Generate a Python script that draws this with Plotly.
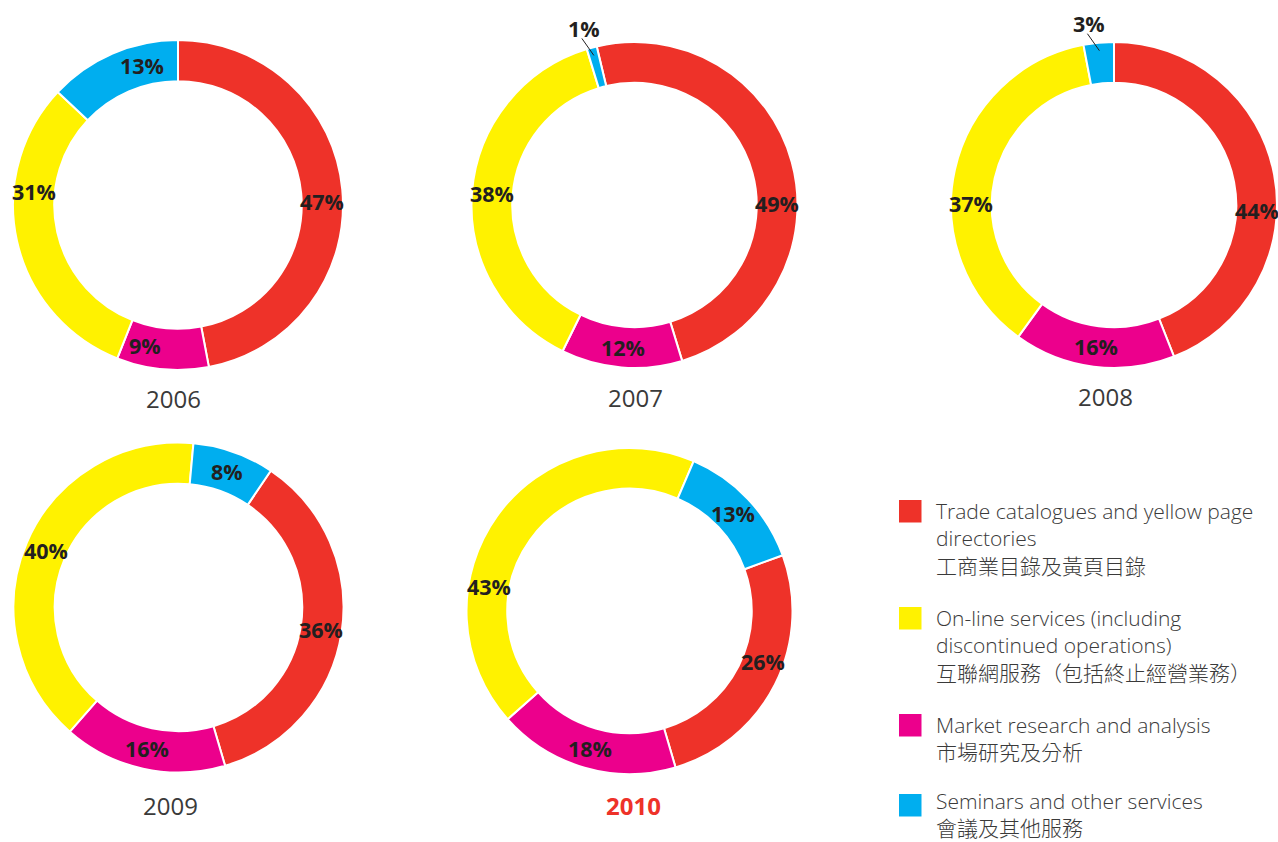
import math
import plotly.graph_objects as go

# ---------------- data ----------------
years = ["2006", "2007", "2008", "2009", "2010"]
categories_en = [
    "Trade catalogues and yellow page<br>directories",
    "On-line services (including<br>discontinued operations)",
    "Market research and analysis",
    "Seminars and other services",
]
categories_zh = [
    "工商業目錄及黃頁目錄",
    "互聯網服務（包括終止經營業務）",
    "市場研究及分析",
    "會議及其他服務",
]
trade = [47, 49, 44, 36, 26]
online = [31, 38, 37, 40, 43]
market = [9, 12, 16, 16, 18]
seminars = [13, 1, 3, 8, 13]

# ---------------- style / layout ----------------
W, H = 1278, 842
colors = {"trade": "#EE3229", "online": "#FFF200", "market": "#EC008C", "seminars": "#00AEEF"}
# donut centre (px) and outer radius (px)
geom = [(178, 205, 165), (634.5, 205, 163), (1114, 205, 163), (178.5, 607.5, 165), (629.5, 611, 163)]
rotations = [0, -13.4, 0, 34, 70]
hole = 0.75
year_pos = [(173, 398), (635, 397), (1105, 396), (171, 805), (633, 805)]
# small manual angular nudges of the percentage labels (degrees), as in the original artwork
label_nudge = [
    {"trade": 4, "market": 8, "online": 18, "seminars": 9},
    {"trade": 14.5},
    {"trade": 13, "online": -12},
    {},
    {"trade": -6, "online": -26},
]
TXT = "#231F20"
GREY = "#3a3a3a"
FONT = "Open Sans, Noto Sans CJK TC, sans-serif"
PCT_SIZE = 21.5


def px2paper(x, y):
    return x / W, 1 - y / H


fig = go.Figure()
annotations = []
shapes = []
keys = ["trade", "market", "online", "seminars"]  # clockwise drawing order

for i, yr in enumerate(years):
    cx, cy, r = geom[i]
    vals = {"trade": trade[i], "online": online[i], "market": market[i], "seminars": seminars[i]}
    v = [vals[k] for k in keys]
    x0, y1 = px2paper(cx - r, cy - r)
    x1, y0 = px2paper(cx + r, cy + r)
    fig.add_trace(go.Pie(
        values=v,
        labels=keys,
        sort=False,
        direction="clockwise",
        rotation=rotations[i],
        hole=hole,
        marker=dict(colors=[colors[k] for k in keys], line=dict(color="white", width=2)),
        textinfo="none",
        hoverinfo="skip",
        showlegend=False,
        domain=dict(x=[x0, x1], y=[y0, y1]),
    ))
    total = sum(v)
    cum = 0
    rm = r * (1 + hole) / 2
    for k, val in zip(keys, v):
        mid = rotations[i] + (cum + val / 2) / total * 360
        cum += val
        if val < 5:
            # small slice: label outside with a short leader line
            ang = math.radians(mid)
            rt = r - 8
            tx, ty = cx + rt * math.sin(ang), cy - rt * math.cos(ang)
            lx0, ly0 = px2paper(tx, ty)
            lx1, ly1 = px2paper(tx - 12, ty - 17)
            shapes.append(dict(type="line", xref="paper", yref="paper", x0=lx0, y0=ly0, x1=lx1, y1=ly1,
                               line=dict(color=TXT, width=1)))
            px_, py_ = px2paper(tx - 10, ty - 27)
            annotations.append(dict(
                x=px_, y=py_, xref="paper", yref="paper", xanchor="center", yanchor="middle",
                text=f"<b>{val}%</b>", showarrow=False,
                font=dict(family=FONT, size=PCT_SIZE, color=TXT),
            ))
        else:
            ang = math.radians(mid + label_nudge[i].get(k, 0))
            tx, ty = cx + rm * math.sin(ang), cy - rm * math.cos(ang)
            ax_, ay_ = px2paper(tx, ty)
            annotations.append(dict(
                x=ax_, y=ay_, xref="paper", yref="paper", xanchor="center", yanchor="middle",
                text=f"<b>{val}%</b>", showarrow=False,
                font=dict(family=FONT, size=PCT_SIZE, color=TXT),
            ))
    # year caption
    yx, yy = px2paper(*year_pos[i])
    is_last = i == len(years) - 1
    annotations.append(dict(
        x=yx, y=yy, xref="paper", yref="paper", xanchor="center", yanchor="middle",
        text=f"<b>{yr}</b>" if is_last else yr, showarrow=False,
        font=dict(family=FONT, size=24, color="#EE3229" if is_last else GREY),
    ))

# ---------------- legend (manual) ----------------
leg_colors = [colors["trade"], colors["online"], colors["market"], colors["seminars"]]
sq_top = [500, 607, 714, 794]
first_line = [511.7, 618.3, 725, 801]
LINE_H = 26.9
for j in range(4):
    a0, b1 = px2paper(899, sq_top[j])
    a1, b0 = px2paper(921.5, sq_top[j] + 22.5)
    shapes.append(dict(type="rect", xref="paper", yref="paper", x0=a0, x1=a1, y0=b0, y1=b1,
                       fillcolor=leg_colors[j], line=dict(width=0)))
    text = categories_en[j] + "<br>" + categories_zh[j]
    nlines = text.count("<br>") + 1
    tx, ty = px2paper(935, first_line[j] + (nlines - 1) * LINE_H / 2)
    annotations.append(dict(
        x=tx, y=ty, xref="paper", yref="paper", xanchor="left", yanchor="middle", align="left",
        text=text, showarrow=False, borderpad=0,
        font=dict(family=FONT, size=21, color=GREY, weight=300),
    ))

fig.update_layout(
    width=W, height=H,
    margin=dict(l=0, r=0, t=0, b=0),
    paper_bgcolor="white", plot_bgcolor="white",
    annotations=annotations, shapes=shapes,
    showlegend=False,
)
fig.write_html("out.html", config={"displayModeBar": False},
               post_script="document.body.style.margin='0';")
